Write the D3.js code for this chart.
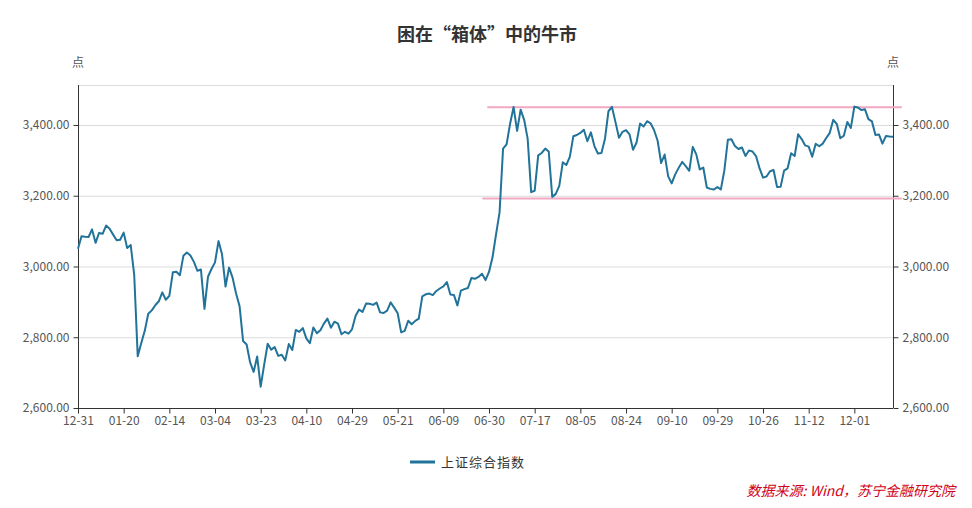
<!DOCTYPE html>
<html><head><meta charset="utf-8">
<script src="https://cdn.jsdelivr.net/npm/d3@7/dist/d3.min.js"></script>
<style>body{margin:0;background:#fff}svg{display:block;font-family:"Noto Sans CJK SC","Noto Sans",sans-serif}</style>
</head><body><svg id="c" width="972" height="508"></svg>
<script>
const dates = ["12-31","01-02","01-03","01-06","01-07","01-08","01-09","01-10","01-13","01-14","01-15","01-16","01-17","01-20","01-21","01-22","01-23","02-03","02-04","02-05","02-06","02-07","02-10","02-11","02-12","02-13","02-14","02-17","02-18","02-19","02-20","02-21","02-24","02-25","02-26","02-27","02-28","03-02","03-03","03-04","03-05","03-06","03-09","03-10","03-11","03-12","03-13","03-16","03-17","03-18","03-19","03-20","03-23","03-24","03-25","03-26","03-27","03-30","03-31","04-01","04-02","04-03","04-07","04-08","04-09","04-10","04-13","04-14","04-15","04-16","04-17","04-20","04-21","04-22","04-23","04-24","04-27","04-28","04-29","04-30","05-06","05-07","05-08","05-11","05-12","05-13","05-14","05-15","05-18","05-19","05-20","05-21","05-22","05-25","05-26","05-27","05-28","05-29","06-01","06-02","06-03","06-04","06-05","06-08","06-09","06-10","06-11","06-12","06-15","06-16","06-17","06-18","06-19","06-22","06-23","06-24","06-29","06-30","07-01","07-02","07-03","07-06","07-07","07-08","07-09","07-10","07-13","07-14","07-15","07-16","07-17","07-20","07-21","07-22","07-23","07-24","07-27","07-28","07-29","07-30","07-31","08-03","08-04","08-05","08-06","08-07","08-10","08-11","08-12","08-13","08-14","08-17","08-18","08-19","08-20","08-21","08-24","08-25","08-26","08-27","08-28","08-31","09-01","09-02","09-03","09-04","09-07","09-08","09-09","09-10","09-11","09-14","09-15","09-16","09-17","09-18","09-21","09-22","09-23","09-24","09-25","09-28","09-29","09-30","10-09","10-12","10-13","10-14","10-15","10-16","10-19","10-20","10-21","10-22","10-23","10-26","10-27","10-28","10-29","10-30","11-02","11-03","11-04","11-05","11-06","11-09","11-10","11-11","11-12","11-13","11-16","11-17","11-18","11-19","11-20","11-23","11-24","11-25","11-26","11-27","11-30","12-01","12-02","12-03","12-04","12-07","12-08","12-09","12-10","12-11","12-14","12-15","12-16"];
const values = [3050.12,3085.20,3083.79,3083.41,3104.80,3066.89,3094.88,3092.29,3115.57,3106.82,3090.04,3074.08,3075.50,3095.79,3052.14,3060.75,2976.53,2746.61,2783.29,2818.09,2866.51,2875.96,2890.49,2901.67,2926.90,2906.07,2917.01,2983.62,2984.97,2975.40,3030.15,3039.67,3031.23,3013.05,2987.93,2991.33,2880.30,2970.93,2992.90,3011.67,3071.68,3034.51,2943.29,2996.76,2968.52,2923.49,2887.43,2789.25,2779.64,2728.76,2702.13,2745.62,2660.17,2722.44,2781.59,2764.91,2772.20,2747.21,2750.30,2734.52,2780.64,2763.99,2820.76,2815.37,2825.90,2796.63,2783.05,2827.28,2811.17,2819.94,2838.49,2852.55,2827.01,2843.98,2838.50,2808.53,2815.49,2810.02,2822.44,2860.08,2878.14,2871.52,2895.34,2894.80,2891.56,2898.05,2870.34,2868.46,2875.42,2898.58,2883.74,2867.92,2813.77,2817.97,2846.55,2836.80,2846.22,2852.35,2915.43,2921.40,2923.37,2919.25,2930.80,2937.77,2943.75,2956.11,2920.90,2919.74,2890.03,2931.75,2935.87,2939.32,2967.63,2965.27,2970.62,2979.55,2961.52,2984.67,3025.98,3090.57,3152.81,3332.88,3345.34,3403.44,3450.59,3383.32,3443.29,3414.62,3361.30,3210.10,3214.13,3314.15,3320.90,3333.16,3325.11,3196.77,3205.23,3227.96,3294.55,3286.82,3310.01,3367.97,3371.69,3377.56,3386.46,3354.04,3379.25,3340.29,3319.27,3320.73,3360.10,3438.80,3451.09,3408.13,3363.90,3380.68,3385.64,3373.58,3329.74,3350.59,3403.81,3395.68,3410.61,3404.80,3384.98,3355.37,3292.59,3316.42,3254.63,3234.82,3260.35,3278.81,3295.68,3283.93,3270.44,3338.09,3316.94,3274.30,3279.71,3223.18,3219.42,3217.53,3224.36,3218.05,3272.08,3358.47,3359.75,3340.52,3332.18,3336.36,3312.50,3328.10,3325.03,3312.16,3278.00,3251.12,3254.32,3269.24,3272.74,3224.53,3225.12,3271.07,3277.44,3320.13,3312.16,3373.73,3360.15,3342.20,3338.68,3310.10,3346.97,3339.90,3347.30,3363.09,3377.73,3414.49,3402.82,3362.33,3369.73,3408.31,3391.76,3451.94,3449.38,3442.14,3444.58,3416.60,3410.18,3371.96,3373.28,3347.19,3369.12,3367.23,3366.98];
const xTickLabels = ["12-31","01-20","02-14","03-04","03-23","04-10","04-29","05-21","06-09","06-30","07-17","08-05","08-24","09-10","09-29","10-26","11-12","12-01"];
const yTicks = [2600,2800,3000,3200,3400];
// box bounds (upper / lower)
const boxLevels = [3450, 3192];
const boxStarts = [116.5, 115.1];
const boxEnd = 234.5;

const svg = d3.select("#c");
const L = 78, R = 893, T = 85, B = 408;
const x = d3.scaleLinear().domain([0, dates.length-1]).range([L, R]);
const y = d3.scaleLinear().domain([2600, 3513]).range([B, T]);
const fmt = d3.format(",.2f");

// grid
svg.append("g").selectAll("line").data(yTicks.slice(1).concat([3513])).join("line")
  .attr("x1", L).attr("x2", R).attr("y1", d=>y(d)+0.5).attr("y2", d=>y(d)+0.5)
  .attr("stroke", "#dcdcdc").attr("stroke-width", 1);

// left axis
const la = svg.append("g").attr("transform", `translate(${L+0.5},0)`)
  .call(d3.axisLeft(y).tickValues(yTicks).tickFormat(fmt).tickSize(5).tickPadding(4));
// right axis
const ra = svg.append("g").attr("transform", `translate(${R+0.5},0)`)
  .call(d3.axisRight(y).tickValues(yTicks).tickFormat(fmt).tickSize(5).tickPadding(4));
// x axis
const tickIdx = xTickLabels.map(l => dates.indexOf(l));
const xa = svg.append("g").attr("transform", `translate(0,${B+0.5})`)
  .call(d3.axisBottom(x).tickValues(tickIdx).tickFormat(i => dates[i]).tickSize(5).tickPadding(3).tickSizeOuter(0));
[la, ra, xa].forEach(g => {
  g.select(".domain").attr("stroke", "#333");
  g.selectAll(".tick line").attr("stroke", "#333");
  g.selectAll("text").attr("fill", "#555").style("font-size", "12px").style("font-family", "'Noto Sans CJK SC','Noto Sans',sans-serif");
});
la.select(".domain").attr("d", `M0,${T}V${B}`);
ra.select(".domain").attr("d", `M0,${T}V${B}`);
xa.select(".domain").attr("d", `M${L},0H${R}`);

// box lines
svg.append("g").selectAll("line").data(boxLevels).join("line")
  .attr("x1", (d,i)=>x(boxStarts[i])).attr("x2", x(boxEnd))
  .attr("y1", d=>y(d)).attr("y2", d=>y(d))
  .attr("stroke", "#f2a7c3").attr("stroke-width", 2);

// line
svg.append("path").datum(values)
  .attr("d", d3.line().x((d,i)=>x(i)).y(d=>y(d)))
  .attr("fill", "none").attr("stroke", "#22739a").attr("stroke-width", 2).attr("stroke-linejoin","round");

// units
svg.append("text").attr("x", L).attr("y", 67).attr("text-anchor","middle").attr("fill","#555").style("font-size","12px").text("点");
svg.append("text").attr("x", R).attr("y", 67).attr("text-anchor","middle").attr("fill","#555").style("font-size","12px").text("点");

// title
svg.append("text").attr("x", 487).attr("y", 41).attr("text-anchor","middle").attr("fill","#333")
  .style("font-size","18px").style("font-weight","bold").text("困在“箱体”中的牛市");

// legend
svg.append("line").attr("x1", 410).attr("x2", 435).attr("y1", 462).attr("y2", 462).attr("stroke","#22739a").attr("stroke-width",3);
svg.append("text").attr("x", 441).attr("y", 467).attr("fill","#333").style("font-size","13px").style("letter-spacing","1px").text("上证综合指数");

// source
svg.append("text").attr("x", 955).attr("y", 496).attr("text-anchor","end").attr("fill","#d0021b")
  .style("font-size","14px").style("font-style","italic").text("数据来源: Wind，苏宁金融研究院");
</script></body></html>
